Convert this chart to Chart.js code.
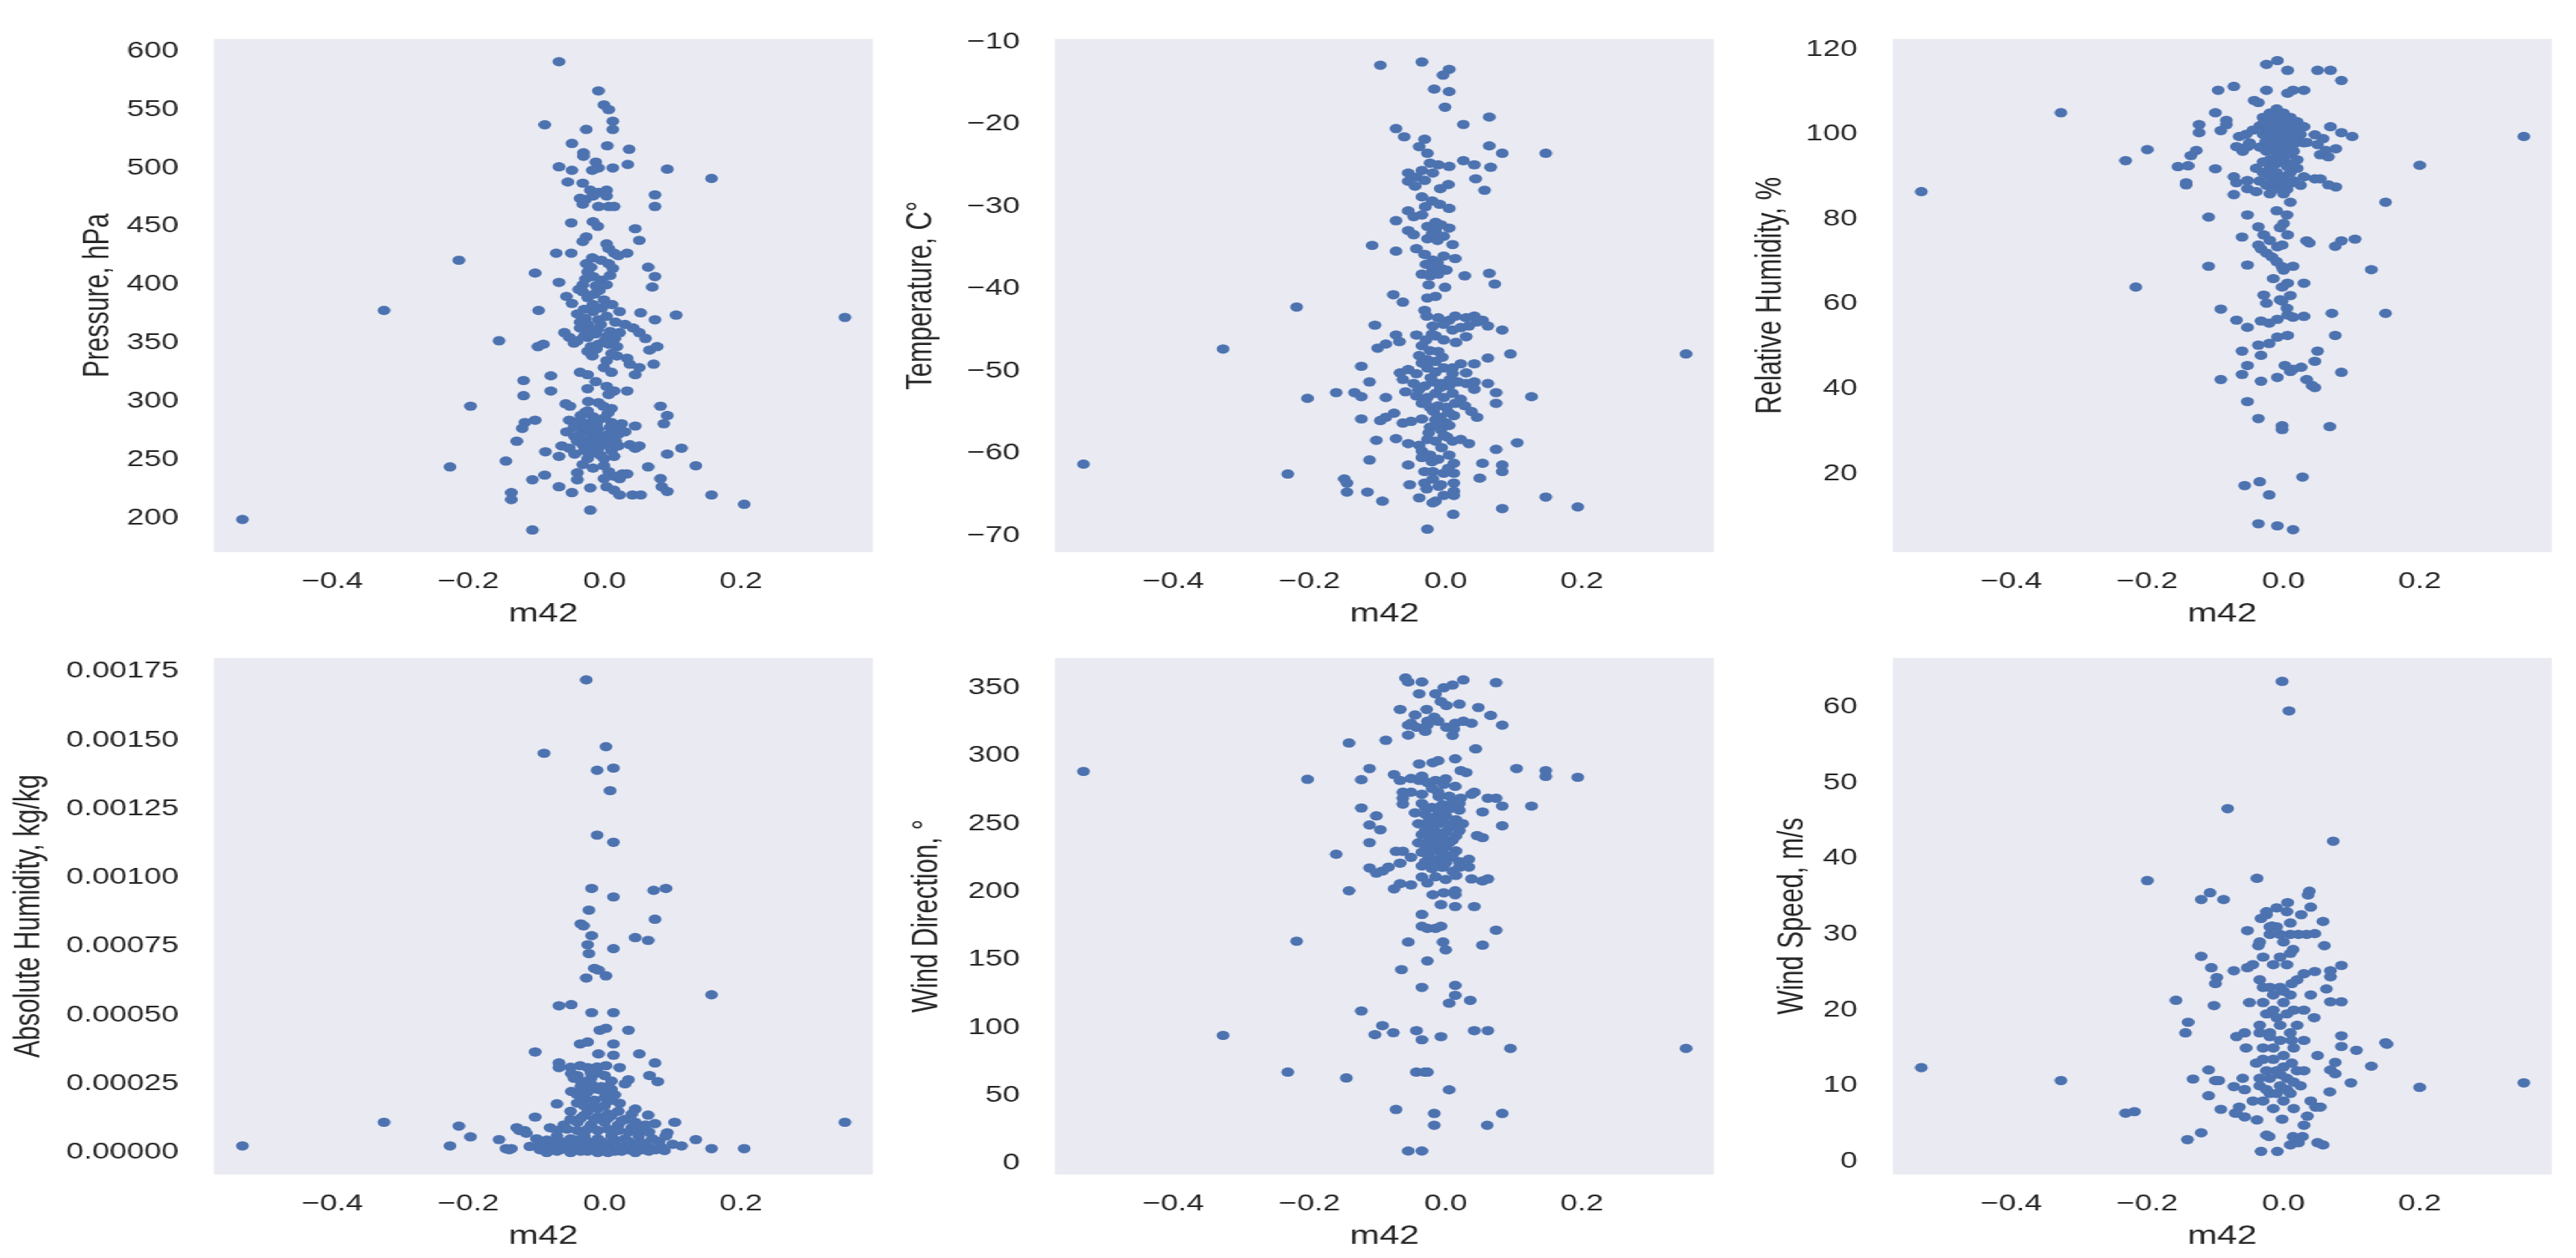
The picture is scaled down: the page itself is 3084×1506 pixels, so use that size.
<!DOCTYPE html>
<html>
<head>
<meta charset="utf-8">
<script src="https://cdn.jsdelivr.net/npm/chart.js@4.4.1/dist/chart.umd.min.js"></script>
<style>
  body { margin: 0; background: #fff; }
  #wrap { position: relative; width: 2235px; height: 1506px; transform-origin: 0 0; }
</style>
</head>
<body>
<div id="wrap"></div>
<script>
// m42 on the x axis, one [m42, value] list per panel
const xTicks = [-0.4, -0.2, 0.0, 0.2];
const xRange = [-0.574, 0.394];

const pressure = [
  [-0.067,591],[-0.009,566],[-0.001,554],[0.006,550],[0.012,540],[0.012,533],[-0.088,537],[-0.027,533],[-0.048,521],[0.004,519],
  [0.036,516],[-0.031,513],[-0.031,510],[0.034,503],[-0.067,501],[0.012,500],[0.092,499],[-0.013,505],[-0.018,498],[-0.009,500],
  [-0.048,498],[0.157,491],[-0.054,488],[-0.032,487],[-0.021,481],[-0.009,479],[0.003,481],[-0.036,474],[-0.028,473],[-0.017,476],
  [0.003,476],[-0.032,469],[-0.009,467],[0.006,467],[0.014,467],[0.074,477],[0.074,467],[-0.049,453],[-0.017,454],[-0.010,450],
  [0.045,448],[0.051,438],[-0.027,441],[-0.032,437],[-0.071,427],[-0.049,427],[0.003,435],[0.006,431],[0.014,427],[0.020,425],
  [0.033,427],[-0.214,421],[-0.018,423],[-0.005,421],[-0.027,418],[0.006,418],[0.012,414],[0.064,415],[0.074,407],[-0.102,410],
  [-0.067,402],[-0.025,411],[-0.017,407],[-0.005,404],[-0.032,400],[-0.013,399],[0.003,400],[0.070,398],[-0.056,390],[-0.048,384],
  [-0.032,394],[-0.025,389],[-0.017,383],[-0.001,387],[0.011,383],[-0.324,378],[-0.097,378],[0.105,374],[0.022,377],[0.053,376],
  [0.074,370],[-0.040,375],[-0.028,371],[-0.017,377],[-0.009,370],[0.003,373],[-0.025,366],[-0.036,363],[0.030,366],[0.042,363],
  [0.051,359],[-0.155,352],[-0.059,359],[-0.052,355],[-0.040,352],[-0.025,355],[-0.013,358],[-0.009,349],[0.006,349],[0.018,347],
  [0.022,359],[-0.098,347],[-0.090,349],[0.060,354],[0.066,344],[0.077,347],[-0.018,339],[0.003,335],[0.018,339],[0.033,337],
  [0.037,332],[0.072,332],[-0.001,329],[0.010,325],[-0.036,325],[-0.025,323],[0.045,323],[0.051,329],[-0.079,322],[-0.119,318],
  [-0.079,309],[-0.119,305],[-0.013,317],[0.003,313],[0.014,309],[-0.025,311],[0.006,306],[0.033,309],[-0.197,296],[-0.057,298],
  [-0.051,296],[-0.009,299],[0.010,294],[-0.028,291],[-0.017,287],[0.082,296],[0.092,288],[0.087,281],[-0.117,282],[-0.102,284],
  [-0.121,277],[-0.052,284],[-0.036,284],[-0.025,281],[-0.009,284],[0.010,282],[0.018,277],[-0.056,274],[-0.044,270],[-0.032,274],
  [-0.017,272],[-0.005,270],[0.006,272],[0.014,269],[0.030,274],[0.045,279],[-0.129,266],[-0.063,262],[-0.052,260],[-0.032,263],
  [-0.021,262],[-0.009,260],[0.003,263],[0.037,263],[0.045,260],[0.051,262],[-0.087,257],[-0.067,253],[-0.044,255],[-0.025,251],
  [-0.001,251],[0.014,253],[0.113,260],[0.092,255],[-0.145,249],[-0.227,244],[0.134,245],[-0.032,246],[-0.017,243],[-0.001,245],
  [0.064,244],[-0.040,239],[0.006,240],[0.014,236],[0.026,238],[0.033,238],[-0.088,237],[-0.106,233],[-0.040,233],[-0.001,234],
  [0.022,234],[0.082,234],[0.084,227],[-0.067,227],[-0.048,222],[-0.021,226],[0.003,227],[0.014,224],[0.022,220],[-0.137,222],
  [-0.137,216],[0.041,220],[0.053,220],[0.092,223],[0.157,220],[-0.021,207],[0.205,212],[-0.532,199],[-0.106,190],[0.353,372],
  [-0.020,268],[-0.010,276],[0.000,265],[-0.030,279],[0.010,258],[-0.015,285],[0.005,290],[-0.040,266],[0.020,262],[0.025,281],
  [-0.030,356],[-0.010,362],[0.000,352],[-0.020,347],[0.015,354],[0.010,341],[-0.025,343],
  [-0.035,288],[-0.025,292],[-0.012,280],[0.000,286],[0.008,278],[-0.022,274],[-0.038,270],[-0.028,266],[-0.014,264],[0.004,268],
  [0.016,266],[-0.030,258],[-0.018,256],[-0.006,254],[0.008,262],[0.020,272],[-0.045,278],[-0.002,296],[-0.024,300],[-0.036,368],
  [-0.022,361],[-0.006,366],[0.008,360],[-0.045,350],[-0.012,345],[0.004,356],[0.016,368],[-0.030,379],[-0.004,380],[-0.020,415],
  [-0.008,395],[-0.028,405],[0.008,408],[-0.015,392],[-0.038,396]
];

const temperature = [
  [-0.096,-12.8],[-0.035,-12.4],[0.005,-13.3],[-0.004,-14.0],[-0.017,-15.7],[0.005,-16.0],[-0.001,-17.9],[0.064,-19.1],[0.026,-20.0],
  [-0.073,-20.5],[-0.061,-21.5],[-0.031,-21.8],[-0.039,-22.7],[-0.027,-23.5],[0.064,-22.6],[0.083,-23.5],[0.147,-23.5],[-0.023,-24.7],
  [-0.011,-24.9],[0.005,-25.1],[0.026,-24.4],[0.042,-24.9],[0.066,-25.2],[-0.055,-25.9],[-0.043,-26.4],[-0.031,-26.8],[-0.019,-25.9],
  [-0.035,-25.6],[-0.055,-26.9],[0.004,-27.3],[0.044,-26.6],[0.057,-28.0],[-0.035,-28.8],[-0.020,-29.3],[-0.009,-29.7],[0.005,-30.2],
  [-0.055,-30.5],[-0.047,-31.2],[-0.035,-31.0],[-0.073,-31.7],[-0.015,-31.9],[-0.027,-32.4],[0.005,-32.6],[-0.015,-32.9],[-0.007,-32.2],
  [-0.055,-32.9],[-0.047,-33.4],[-0.027,-33.9],[-0.012,-34.1],[-0.003,-33.6],[0.010,-34.6],[-0.108,-34.7],[-0.073,-35.4],[-0.043,-35.1],
  [-0.031,-35.8],[-0.019,-36.5],[-0.003,-36.0],[0.014,-36.3],[-0.029,-37.0],[-0.019,-37.7],[-0.007,-37.5],[-0.035,-38.2],[-0.023,-38.4],
  [-0.011,-38.2],[0.001,-37.7],[0.028,-38.4],[0.064,-38.1],[0.072,-39.4],[-0.001,-39.8],[-0.077,-40.7],[-0.063,-41.6],[-0.027,-41.1],
  [-0.015,-40.9],[-0.219,-42.2],[-0.031,-42.6],[-0.028,-43.3],[-0.011,-43.5],[0.005,-43.8],[0.014,-43.3],[0.030,-43.5],[0.042,-43.3],
  [0.054,-43.8],[-0.104,-44.4],[-0.019,-44.5],[-0.003,-44.3],[0.010,-45.0],[0.022,-44.7],[0.034,-44.5],[0.046,-44.0],[0.062,-44.5],
  [0.083,-45.0],[-0.043,-45.6],[-0.029,-46.2],[-0.015,-45.7],[-0.003,-46.2],[-0.073,-45.6],[-0.100,-47.2],[-0.088,-46.7],[-0.068,-46.4],
  [-0.327,-47.3],[-0.035,-46.9],[-0.023,-47.5],[-0.011,-47.6],[-0.039,-48.1],[-0.027,-48.6],[-0.015,-48.8],[0.062,-48.4],[0.095,-47.9],
  [0.353,-47.9],[0.022,-49.1],[0.042,-49.1],[0.010,-49.6],[-0.124,-49.4],[-0.067,-50.2],[-0.055,-49.8],[-0.043,-50.3],[-0.027,-49.6],
  [-0.015,-50.1],[-0.003,-49.6],[0.010,-50.3],[0.030,-50.2],[-0.112,-51.3],[-0.063,-51.0],[-0.047,-51.5],[-0.031,-51.8],[-0.019,-51.3],
  [-0.007,-51.5],[0.005,-51.8],[0.018,-51.3],[0.030,-51.5],[0.042,-51.3],[0.062,-51.5],[-0.161,-52.6],[-0.134,-52.6],[-0.124,-53.1],
  [-0.203,-53.3],[0.126,-53.1],[-0.088,-53.2],[-0.059,-52.5],[-0.043,-53.0],[-0.027,-53.2],[-0.015,-52.7],[-0.003,-53.2],[0.010,-52.7],
  [0.022,-53.4],[0.042,-52.2],[0.074,-52.6],[0.074,-53.9],[-0.035,-53.9],[-0.023,-54.4],[-0.011,-54.2],[0.001,-54.4],[0.014,-53.9],
  [0.028,-54.2],[0.038,-54.9],[0.046,-55.6],[0.012,-55.4],[0.001,-56.3],[-0.015,-55.9],[-0.124,-55.8],[-0.088,-55.6],[-0.096,-56.0],
  [-0.076,-55.1],[-0.063,-56.3],[-0.051,-56.1],[-0.035,-55.8],[-0.023,-56.8],[-0.007,-57.1],[0.005,-56.6],[-0.102,-58.4],[-0.073,-58.2],
  [-0.055,-58.8],[-0.039,-59.0],[-0.027,-58.3],[-0.015,-58.5],[-0.003,-57.8],[0.010,-58.5],[0.022,-58.3],[0.034,-58.8],[0.105,-58.7],
  [0.074,-59.5],[-0.035,-59.7],[-0.023,-60.2],[-0.011,-60.7],[0.005,-60.2],[0.012,-61.2],[-0.112,-60.8],[-0.532,-61.3],[-0.055,-61.4],
  [-0.031,-62.2],[-0.019,-62.2],[-0.003,-62.4],[0.012,-62.4],[0.054,-61.2],[0.083,-61.4],[0.083,-62.2],[-0.232,-62.5],[0.050,-63.0],
  [-0.149,-63.1],[-0.145,-63.6],[-0.053,-63.8],[-0.031,-63.6],[-0.019,-63.1],[-0.007,-63.8],[0.012,-63.6],[0.012,-64.6],[-0.145,-64.7],
  [-0.115,-64.7],[-0.039,-65.4],[-0.015,-65.8],[-0.003,-65.1],[0.012,-65.1],[-0.093,-65.8],[0.147,-65.3],[0.194,-66.5],[0.083,-66.7],
  [-0.019,-66.0],[0.011,-67.4],[-0.027,-69.2],
  [-0.030,-53.7],[-0.018,-54.9],[-0.008,-55.6],[0.004,-55.0],[-0.025,-57.5],[-0.012,-56.3],[0.002,-58.0],[-0.035,-60.5],[-0.020,-61.0],
  [-0.006,-59.3],[0.004,-61.8],[-0.028,-64.3],[-0.010,-64.0],[-0.040,-52.3],[-0.022,-50.8],[-0.008,-52.0],[0.006,-51.0],[-0.035,-49.0],
  [-0.005,-48.3],[0.015,-46.5],[-0.020,-45.5],[0.030,-45.8],[-0.025,-39.5],[-0.012,-36.8],[-0.020,-33.3],[-0.030,-30.0],[-0.045,-27.5],
  [-0.008,-27.8]
];

const relHumidity = [
  [-0.532,86.5],[-0.327,105.1],[-0.232,93.8],[-0.200,96.4],[-0.217,64.0],[0.353,99.5],[0.200,92.7],[0.150,84.0],[0.150,57.8],
  [0.129,68.1],[0.105,75.3],[0.077,87.6],[0.085,74.9],[0.076,73.6],[0.071,57.8],[0.076,52.6],[0.085,43.9],[0.068,31.1],[0.028,19.2],
  [0.069,115.1],[0.050,115.1],[0.085,112.7],[0.101,99.5],[0.085,100.4],[0.069,101.8],[0.014,110.4],[0.030,110.4],[0.006,109.7],
  [0.006,115.1],[-0.009,117.4],[-0.025,116.5],[-0.025,110.4],[-0.043,108.0],[-0.037,107.5],[-0.096,110.4],[-0.073,111.3],[-0.100,105.1],
  [-0.084,103.3],[-0.084,102.3],[-0.092,100.9],[-0.124,102.3],[-0.124,100.4],[-0.065,99.5],[-0.053,97.1],[-0.069,97.1],[-0.128,96.2],
  [-0.136,95.0],[-0.155,92.4],[-0.140,92.6],[-0.143,88.6],[-0.143,88.1],[-0.100,91.9],[-0.073,90.0],[-0.069,88.6],[-0.053,89.1],
  [-0.073,85.8],[-0.053,87.2],[-0.110,80.5],[-0.053,81.0],[-0.061,75.8],[-0.037,78.2],[-0.029,76.3],[-0.037,73.9],[-0.033,73.0],
  [-0.025,72.0],[-0.017,71.1],[-0.009,73.5],[-0.002,73.9],[-0.110,68.9],[-0.053,69.2],[0.006,76.3],[0.034,74.9],[0.038,74.4],
  [-0.002,68.8],[0.014,68.9],[-0.002,64.0],[0.006,64.9],[0.030,64.9],[-0.029,62.1],[-0.025,60.2],[-0.002,60.7],[-0.092,58.8],
  [-0.069,56.2],[-0.053,54.5],[-0.033,56.0],[-0.021,55.5],[-0.009,56.4],[0.006,57.4],[0.014,56.9],[0.030,57.1],[-0.061,48.9],
  [-0.053,45.5],[-0.037,50.3],[-0.033,47.9],[-0.021,50.7],[-0.009,52.2],[0.006,52.6],[0.050,48.9],[0.046,46.5],[0.002,45.5],
  [0.010,44.1],[0.026,45.1],[0.014,44.6],[-0.061,43.4],[-0.033,41.8],[-0.009,42.7],[0.034,42.2],[0.042,40.8],[0.046,40.3],
  [-0.092,42.2],[-0.053,37.0],[-0.037,33.0],[-0.002,31.3],[-0.002,30.4],[-0.057,17.2],[-0.035,18.1],[-0.021,15.0],[-0.037,8.2],
  [-0.009,7.7],[0.014,6.8],[0.062,96.2],[0.077,96.6],[0.050,97.6],[0.034,98.1],[0.058,99.0],[0.046,99.9],[0.030,101.8],[0.054,95.2],
  [0.066,94.7],[0.054,89.5],[0.066,88.1],[0.046,89.5],[-0.030,104],[-0.020,105],[-0.010,106],[0.000,105],[0.010,104],[0.020,103],
  [-0.035,102],[-0.025,101],[-0.015,102],[-0.005,103],[0.005,102],[0.015,101],[0.025,100],[-0.030,100],[-0.020,99],[-0.010,100],
  [0.000,99],[0.010,98],[0.020,99],[0.030,98],[-0.035,97],[-0.025,96],[-0.015,97],[-0.005,96],[0.005,97],[0.015,96],[-0.020,94],
  [-0.010,95],[0.000,94],[0.010,93],[-0.040,92],[-0.030,91],[-0.020,92],[-0.010,91],[0.000,90],[0.010,91],[0.020,92],[0.030,90],
  [-0.035,89],[-0.025,88],[-0.015,89],[-0.005,88],[0.005,87],[0.015,89],[-0.020,86],[0.000,86],[0.010,84],[-0.010,82],[0.005,81],
  [0.000,79],[-0.005,78],[-0.055,100],[-0.050,98],[-0.045,101],[-0.060,96],[-0.020,75],[-0.010,70],[0.000,68],[-0.015,66],
  [0.010,62],[-0.005,61],[0.005,59],
  [-0.028,103],[-0.018,103.5],[-0.008,104],[0.002,103.7],[0.012,102.5],[-0.022,100.8],[-0.012,101],[-0.002,101.3],[0.008,100.5],
  [0.018,100.2],[-0.026,98.3],[-0.014,98.5],[-0.004,98],[0.006,98.8],[0.016,97.8],[-0.020,96.5],[-0.006,95.5],[0.008,95.3],
  [-0.030,93.5],[-0.012,93],[0.005,92.5],[0.020,94],[-0.020,90],[-0.005,89],[0.010,88.5],[0.025,88],[-0.040,86.5],[-0.015,87]
];

const absHumidity = [
  [-0.027,0.001720],[0.002,0.001477],[-0.089,0.001453],[-0.011,0.001391],[0.013,0.001399],[0.008,0.001317],[-0.011,0.001155],
  [0.013,0.001129],[-0.019,0.000961],[0.013,0.000930],[0.072,0.000954],[0.090,0.000961],[-0.023,0.000882],[-0.035,0.000832],
  [-0.031,0.000825],[0.074,0.000849],[0.045,0.000782],[0.064,0.000772],[-0.019,0.000789],[-0.025,0.000756],[0.013,0.000742],
  [-0.023,0.000724],[-0.015,0.000670],[-0.009,0.000664],[-0.027,0.000635],[0.002,0.000643],[0.157,0.000574],[-0.067,0.000534],
  [-0.049,0.000538],[-0.019,0.000509],[0.013,0.000509],[-0.007,0.000445],[0.002,0.000452],[0.035,0.000445],[-0.036,0.000395],
  [-0.025,0.000402],[0.013,0.000395],[-0.102,0.000366],[-0.009,0.000359],[0.013,0.000354],[0.051,0.000359],[0.074,0.000326],
  [0.066,0.000280],[0.078,0.000258],[-0.067,0.000326],[-0.067,0.000309],[-0.049,0.000287],[-0.036,0.000316],[-0.025,0.000309],
  [-0.011,0.000311],[0.002,0.000316],[0.022,0.000309],[0.035,0.000265],[-0.049,0.000222],[-0.032,0.000208],[-0.017,0.000237],
  [-0.001,0.000222],[0.010,0.000230],[0.022,0.000179],[-0.070,0.000177],[0.045,0.000158],[0.064,0.000136],[-0.102,0.000129],
  [0.103,0.000110],[-0.324,0.000110],[0.074,0.000105],[0.092,0.000072],[-0.129,0.000090],[-0.117,0.000079],[-0.214,0.000096],
  [-0.197,0.000057],[-0.155,0.000047],[-0.227,0.000024],[-0.532,0.000024],[0.134,0.000047],[0.113,0.000024],[0.157,0.000014],
  [0.205,0.000014],[-0.145,0.000014],[-0.137,0.000014],[-0.110,0.000022],[-0.094,0.000029],[-0.087,0.000014],[0.082,0.000021],
  [0.088,0.000007],[0.353,0.000110],
  [-0.040,0.00028],[-0.020,0.00027],[-0.010,0.00029],[0.000,0.00028],[-0.035,0.00024],[-0.020,0.00025],[-0.005,0.00024],
  [0.010,0.00026],[0.030,0.00025],[-0.030,0.00020],[-0.015,0.00019],[0.000,0.00020],[0.015,0.00021],[-0.040,0.00018],
  [-0.025,0.00015],[-0.010,0.00016],[0.005,0.00014],[0.020,0.00015],[0.040,0.00014],[-0.050,0.00015],[-0.060,0.00010],
  [-0.040,0.00011],[-0.020,0.00010],[0.000,0.00011],[0.020,0.00010],[0.040,0.00009],[0.060,0.00010],[-0.080,0.00009],
  [-0.070,0.00006],[-0.050,0.00005],[-0.030,0.00006],[-0.010,0.00005],[0.010,0.00006],[0.030,0.00005],[0.050,0.00006],
  [0.070,0.00005],[-0.075,0.00003],[-0.055,0.00002],[-0.035,0.00003],[-0.015,0.00002],[0.005,0.00003],[0.025,0.00002],
  [0.045,0.00003],[0.065,0.00002],[-0.065,0.00001],[-0.045,0.00001],[-0.025,0.000005],[-0.005,0.00001],[0.015,0.000005],
  [0.035,0.00001],[0.055,0.00001],[-0.095,0.00001],[0.075,0.00001],[-0.125,0.00008],[-0.115,0.00007],[-0.100,0.00005],
  [-0.090,0.00004],[-0.140,0.00001],[0.080,0.00004],[0.090,0.00006],[0.100,0.00003],
  [-0.030,0.000135],[-0.010,0.00013],[0.010,0.000135],[0.030,0.00012],[-0.050,0.00012],[-0.035,0.000125],[-0.015,0.00012],
  [0.005,0.000125],[0.025,0.000115],[0.045,0.00011],[-0.070,0.00008],[-0.055,0.000085],[-0.040,0.00008],[-0.025,0.000085],
  [-0.010,0.00008],[0.005,0.000085],[0.020,0.00008],[0.035,0.000075],[0.050,0.00008],[0.065,0.000075],[-0.065,0.00004],
  [-0.050,0.000035],[-0.040,0.000045],[-0.025,0.00004],[-0.005,0.00004],[0.015,0.000045],[0.035,0.00004],[0.055,0.000035],
  [-0.085,0.000045],[-0.080,0.00002],[-0.060,0.000025],[-0.045,0.00002],[-0.020,0.000025],[0.000,0.00002],[0.020,0.000015],
  [0.040,0.00002],[0.060,0.000015],[-0.070,0.000005],[-0.050,0.0],[-0.035,0.000005],[-0.010,0.0],[0.005,0.0],[0.025,0.000005],
  [0.045,0.0],[0.065,0.000005],[-0.085,0.0],[-0.035,0.00026],[-0.025,0.00022],[-0.010,0.00023],[0.005,0.00024],[-0.030,0.00017],
  [-0.018,0.00018],[0.000,0.00017],[0.010,0.00019],[-0.040,0.00021],[-0.020,0.00029],[-0.050,0.00031],[-0.045,0.00027]
];

const windDir = [
  [-0.532,288.5],[-0.327,94.3],[-0.232,67.3],[-0.219,163.6],[-0.203,282.7],[-0.161,227.6],[-0.146,63.0],[-0.142,309.4],[-0.142,200.7],
  [-0.124,282.4],[-0.124,261.6],[-0.124,112.3],[-0.112,290.6],[-0.112,249.1],[-0.112,236.1],[-0.104,94.9],[-0.093,101.5],[-0.102,255.8],
  [-0.096,245.6],[-0.112,217.5],[-0.102,213.7],[-0.093,215.2],[-0.084,218.1],[-0.088,311.4],[-0.077,96.3],[-0.073,39.8],[-0.076,202.1],
  [-0.067,205.9],[-0.073,229.7],[-0.063,229.7],[-0.076,286.2],[-0.067,281.9],[-0.063,273.2],[-0.063,268.8],[-0.063,264.5],[-0.067,334.1],
  [-0.055,322.5],[-0.055,315.2],[-0.055,354.3],[-0.055,163.0],[-0.065,142.7],[-0.055,9.3],[-0.035,9.3],[-0.043,97.8],[-0.035,91.1],
  [-0.043,67.3],[-0.031,67.3],[-0.027,67.3],[-0.039,294.0],[-0.035,129.6],[-0.035,183.3],[-0.035,174.6],[-0.027,173.1],[-0.027,149.1],
  [-0.017,36.9],[-0.017,28.2],[-0.007,93.4],[0.005,54.3],[0.014,131.1],[0.014,123.8],[0.005,118.0],[0.036,120.1],[-0.004,163.0],
  [0.000,157.2],[-0.015,173.1],[-0.007,174.6],[-0.007,190.5],[0.014,189.1],[0.042,189.1],[0.054,160.7],[0.074,171.7],[0.042,97.8],
  [0.062,97.8],[0.095,84.7],[0.353,84.7],[0.083,36.9],[0.061,28.2],[-0.059,357.2],[-0.035,354.3],[-0.039,345.6],[-0.015,345.6],
  [-0.003,350.0],[0.010,352.0],[0.026,355.8],[-0.007,339.9],[0.001,337.0],[0.074,353.8],[-0.028,334.1],[-0.017,328.3],[-0.027,325.4],
  [0.048,335.5],[0.066,329.7],[0.083,322.5],[-0.051,323.9],[-0.043,321.0],[-0.027,322.5],[-0.011,325.4],[0.001,321.0],[0.014,323.9],
  [0.026,325.4],[0.038,323.9],[0.012,319.6],[0.044,305.1],[-0.019,294.9],[-0.011,296.4],[0.014,297.8],[0.022,289.1],[0.030,287.7],
  [0.104,290.6],[0.147,289.1],[0.147,284.8],[0.194,284.2],[0.126,263.0],[0.083,263.0],[0.083,248.5],[0.074,268.8],[0.062,268.8],
  [0.054,258.7],[0.042,273.2],[-0.051,283.3],[-0.039,281.9],[-0.027,280.4],[-0.015,281.9],[-0.003,279.0],[0.014,277.5],[-0.051,273.2],
  [-0.035,271.7],[-0.011,273.2],[0.005,270.3],[0.022,268.8],[0.038,271.7],[-0.035,265],[-0.020,262],[-0.005,264],[0.010,266],
  [0.020,260],[-0.030,257],[-0.015,255],[0.000,256],[0.015,253],[-0.040,250],[-0.025,248],[-0.010,250],[0.005,247],[0.020,245],
  [-0.035,242],[-0.020,240],[-0.005,241],[0.010,238],[-0.030,234],[-0.015,232],[0.000,233],[0.015,230],[-0.025,226],[-0.010,224],
  [0.005,225],[0.020,222],[-0.035,219],[-0.020,217],[-0.005,218],[0.010,215],[-0.015,211],[0.000,209],[0.015,212],[0.046,241.3],
  [0.054,239.8],[0.034,223.9],[0.034,218.1],[0.038,209.4],[0.054,207.9],[0.062,209.4],[-0.051,225.3],[-0.067,221.0],[-0.019,197.8],
  [-0.003,199.2],[0.014,197.8],[0.014,200.7],[-0.035,210.8],[-0.027,206.5],[-0.051,205.0],
  [-0.030,262],[-0.010,258],[0.005,261],[-0.025,252],[-0.005,253],[0.010,250],[-0.030,245],[-0.015,244],[0.000,244],[0.015,241],
  [-0.025,237],[-0.010,236],[0.005,236],[-0.035,229],[-0.020,230],[-0.005,228],[0.010,227],[-0.030,222],[-0.015,220],[0.000,221],
  [0.020,218],[-0.045,258],[-0.040,236],[0.025,250],[0.020,265],[-0.010,270],[-0.020,276],[0.000,283],[-0.035,285],[0.010,315],
  [-0.030,318],[-0.045,330],[0.020,338]
];

const windSpeed = [
  [-0.532,12.4],[-0.327,10.7],[-0.232,6.4],[-0.219,6.6],[-0.200,37.1],[0.353,10.4],[0.200,9.8],[0.150,15.7],[0.152,15.5],[0.129,12.6],
  [0.099,10.4],[0.107,14.7],[0.085,16.6],[0.085,15.2],[0.085,21.1],[0.069,21.1],[0.085,25.9],[0.069,25.2],[0.069,24.4],[0.060,28.5],
  [0.058,31.7],[0.063,22.8],[0.073,42.3],[0.076,13.1],[0.069,12.1],[0.076,11.6],[0.068,9.2],[0.038,35.7],[0.036,35.2],[0.040,33.6],
  [0.006,34.2],[0.026,32.6],[0.046,30.1],[0.034,30.0],[0.022,30.0],[0.014,28.0],[0.030,24.8],[0.046,25.1],[-0.002,63.4],[0.008,59.5],
  [-0.082,46.6],[-0.039,37.4],[-0.108,35.5],[-0.121,34.6],[-0.088,34.6],[-0.121,27.1],[-0.106,25.6],[-0.098,24.3],[-0.100,23.5],
  [-0.073,25.2],[-0.053,25.6],[-0.102,20.6],[-0.158,21.3],[-0.140,18.4],[-0.144,17.0],[-0.133,10.9],[-0.110,12.1],[-0.100,10.7],
  [-0.095,10.7],[-0.110,8.7],[-0.121,3.8],[-0.141,2.9],[-0.092,6.9],[-0.071,6.4],[-0.065,7.2],[-0.073,9.9],[-0.057,9.5],[-0.069,16.5],
  [-0.057,17.0],[-0.053,30.5],[-0.037,28.5],[-0.033,32.1],[-0.025,32.6],[-0.017,31.1],[-0.033,1.35],[-0.009,1.35],[0.010,2.2],
  [0.022,2.5],[-0.025,3.5],[-0.021,3.3],[-0.002,5.6],[0.030,4.8],[0.014,3.3],[0.028,3.3],[0.050,2.5],[0.058,2.2],[0.047,7.2],
  [0.054,7.2],[-0.039,5.5],[-0.057,5.9],[-0.069,6.4],
  [-0.035,29],[-0.020,30],[-0.010,31],[0.000,29],[0.010,30],[-0.030,27],[-0.015,26],[0.005,26],[-0.035,24],[-0.020,23],[-0.005,23],
  [0.010,22],[0.020,24],[-0.030,21],[-0.015,20],[0.000,21],[0.015,20],[-0.035,18],[-0.020,17],[-0.005,18],[0.010,17],[0.020,18],
  [-0.030,15],[-0.015,15],[0.000,14],[0.015,15],[0.030,16],[-0.040,13],[-0.025,12],[-0.010,12],[0.005,11],[0.020,12],[-0.035,10],
  [-0.020,9],[-0.005,10],[0.010,9],[0.025,10],[-0.030,8],[-0.015,7],[0.000,8],[0.015,7],[0.040,8],[0.050,14],[0.045,19],[0.040,22],
  [-0.050,21],[-0.055,15],[-0.060,11],[-0.045,26],
  [-0.030,23],[-0.015,22],[0.000,22.5],[0.012,23.5],[-0.025,19.5],[-0.010,19],[0.005,19.5],[-0.035,17],[-0.020,16.5],[-0.005,16],
  [0.012,16],[-0.030,13.5],[-0.015,13.5],[0.000,12.5],[0.012,13],[-0.035,11],[-0.020,11],[-0.005,11.5],[0.015,10.5],[-0.025,9.5],
  [-0.010,9],[0.005,9.5],[-0.020,31],[-0.005,30],[0.010,31.5],[-0.025,33],[-0.010,33.5],[0.005,33],[-0.005,27],[0.010,27.5],
  [0.030,20],[0.030,12],[-0.045,8],[0.035,6]
];

// y axis titles, ranges and tick labels
const yTitles = ['Pressure, hPa', 'Temperature, C°', 'Relative Humidity, %',
                 'Absolute Humidity, kg/kg', 'Wind Direction, °', 'Wind Speed, m/s'];
const yRanges = [[171, 610.5], [-72, -9.6], [1.5, 122.5], [-0.00008, 0.0018], [-8, 372], [-1.7, 66.5]];
const yTicks = [
  [200, 250, 300, 350, 400, 450, 500, 550, 600],
  [-70, -60, -50, -40, -30, -20, -10],
  [20, 40, 60, 80, 100, 120],
  [0, 0.00025, 0.0005, 0.00075, 0.001, 0.00125, 0.0015, 0.00175],
  [0, 50, 100, 150, 200, 250, 300, 350],
  [0, 10, 20, 30, 40, 50, 60]
];
const yDecimals = [0, 0, 0, 5, 0, 0];
const series = [pressure, temperature, relHumidity, absHumidity, windDir, windSpeed];

// the source figure is stretched sideways, so draw narrow and scale the whole sheet
const S = 1.38;
const wrap = document.getElementById('wrap');
wrap.style.transform = 'scaleX(' + S + ')';

const PLOT_W = 789 / S;
const X_AXIS_H = 92.6;
const rows = [
  { top: 0, padTop: 41, plotH: 620, h: 758 },
  { top: 741, padTop: 42, plotH: 623, h: 765 }
];
// title centre and plot left edge, in page pixels
const panels = [
  { titleX: 118, plotLeft: 256 }, { titleX: 1103, plotLeft: 1263 }, { titleX: 2120, plotLeft: 2266 },
  { titleX: 35, plotLeft: 256 }, { titleX: 1110, plotLeft: 1263 }, { titleX: 2147, plotLeft: 2266 }
];

const textColor = '#262626';
const fontFamily = "'Liberation Sans', Arial, sans-serif";

function fmt(v, d) {
  return v.toFixed(d).replace('-', '\u2212');
}

const plotBg = {
  id: 'plotBg',
  beforeDraw(chart) {
    const { ctx, chartArea: a } = chart;
    ctx.save();
    ctx.fillStyle = '#EAEAF2';
    ctx.fillRect(a.left, a.top, a.right - a.left, a.bottom - a.top);
    ctx.restore();
  }
};

function drawPanel(i) {
  const p = panels[i];
  const r = rows[Math.floor(i / 3)];
  const left = Math.round(p.titleX / S - 18.6);
  const yW = p.plotLeft / S - left;
  const w = Math.round(yW + PLOT_W + 12);

  const canvas = document.createElement('canvas');
  canvas.width = w;
  canvas.height = r.h;
  canvas.style.cssText = 'position:absolute;left:' + left + 'px;top:' + r.top + 'px;width:' + w + 'px;height:' + r.h + 'px';
  wrap.appendChild(canvas);

  const ticks = yTicks[i];
  const dec = yDecimals[i];

  new Chart(canvas, {
    type: 'scatter',
    data: {
      datasets: [{
        data: series[i].map(d => ({ x: d[0], y: d[1] })),
        backgroundColor: '#4C72B0',
        borderWidth: 0,
        pointRadius: 5.6,
        pointHoverRadius: 5.6
      }]
    },
    options: {
      responsive: false,
      animation: false,
      devicePixelRatio: 1,
      layout: {
        padding: {
          top: r.padTop,
          bottom: r.h - r.padTop - r.plotH - X_AXIS_H,
          left: 0,
          right: w - yW - PLOT_W
        }
      },
      plugins: { legend: { display: false }, tooltip: { enabled: false } },
      scales: {
        x: {
          type: 'linear',
          min: xRange[0],
          max: xRange[1],
          grid: { display: false, drawTicks: false },
          border: { display: false },
          afterBuildTicks: s => { s.ticks = xTicks.map(v => ({ value: v })); },
          afterFit: s => { s.height = X_AXIS_H; },
          ticks: {
            padding: 19.8,
            color: textColor,
            font: { family: fontFamily, size: 27 },
            callback: v => fmt(v, 1)
          },
          title: {
            display: true,
            text: 'm42',
            color: textColor,
            padding: 0,
            font: { family: fontFamily, size: 31 }
          }
        },
        y: {
          type: 'linear',
          min: yRanges[i][0],
          max: yRanges[i][1],
          grid: { display: false, drawTicks: false },
          border: { display: false },
          afterBuildTicks: s => { s.ticks = ticks.map(v => ({ value: v })); },
          afterFit: s => { s.width = yW; },
          ticks: {
            padding: 30.4,
            color: textColor,
            font: { family: fontFamily, size: 27 },
            callback: v => fmt(v, dec)
          },
          title: {
            display: true,
            text: yTitles[i],
            color: textColor,
            padding: 0,
            font: { family: fontFamily, size: 31 }
          }
        }
      }
    },
    plugins: [plotBg]
  });
}

for (let i = 0; i < 6; i++) drawPanel(i);
</script>
</body>
</html>
